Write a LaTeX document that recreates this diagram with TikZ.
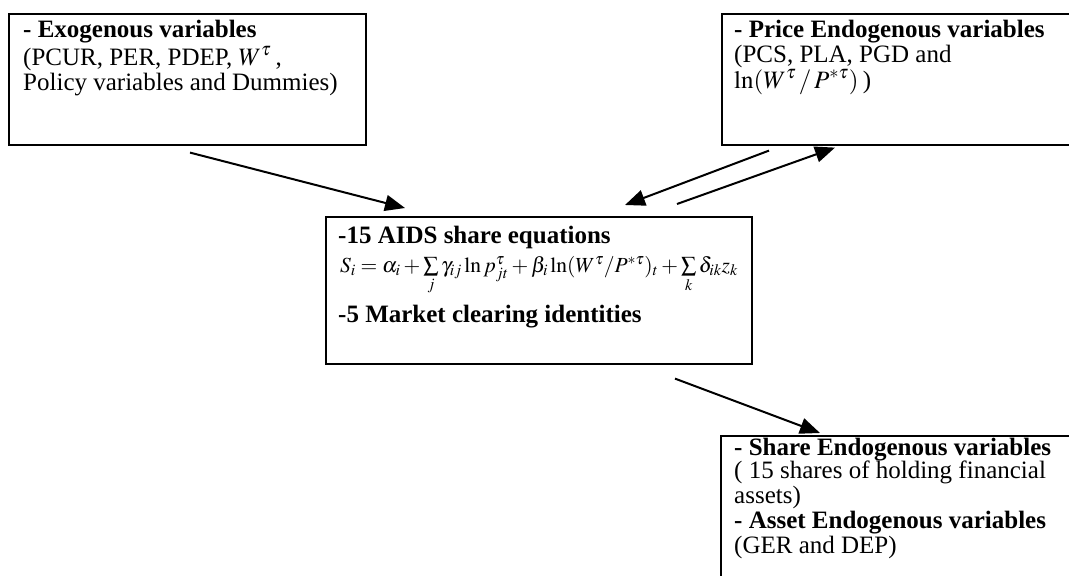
\documentclass[tikz,border=0pt]{standalone}
\usepackage{mathptmx}
\usepackage{fontspec}
\setmainfont{Liberation Serif}
\usetikzlibrary{arrows.meta}

\begin{document}
\begin{tikzpicture}[x=1pt,y=-1pt,
  box/.style={draw, line width=1.6pt, inner sep=0pt, anchor=north west},
  txt/.style={anchor=base west, inner sep=0pt, font=\fontsize{25}{25.5}\selectfont},
  head/.style={txt, font=\fontsize{25}{25.5}\selectfont\bfseries},
  eq/.style={anchor=base west, inner sep=0pt, font=\fontsize{21.5}{21.5}\selectfont},
  conn/.style={line width=2pt, -{Triangle[length=20pt,width=16pt]}}]
\useasboundingbox (0,0) rectangle (1069,576);
\clip (0,0) rectangle (1069,576);

% boxes
\node[box, minimum width=357pt, minimum height=131pt] (exo)   at (8,13)   {};
\node[box, minimum width=420pt, minimum height=131pt] (price) at (721,13) {};
\node[box, minimum width=426pt, minimum height=147pt] (aids)  at (325,216) {};
\node[box, minimum width=420pt, minimum height=200pt] (share) at (720,435) {};

% exogenous variables
\node[head] (exo1) at (23,37) {- Exogenous variables};
\node[txt]  (exo2) at (23,65) {(PCUR, PER, PDEP, $W^{\tau}$\,,};
\node[txt]  (exo3) at (23,90) {Policy variables and Dummies)};

% price endogenous variables
\node[head] (price1) at (734,37) {- Price Endogenous variables};
\node[txt]  (price2) at (734,62) {(PCS, PLA, PGD and};
\node[txt]  (price3) at (734,88) {$\ln(W^{\tau}\,/\,P^{*\tau})$\,)};

% AIDS system
\node[head] (aids1) at (338,243) {-15 AIDS share equations};
\node[eq]   (aids2) at (340,272) {$S_i = \alpha_i + \sum\limits_j \gamma_{ij} \ln p_{jt}^{\tau}
   + \beta_i \ln(W^{\tau}/P^{*\tau})_t + \sum\limits_k \delta_{ik} z_k$};
\node[head] (aids3) at (338,322) {-5 Market clearing identities};

% share and asset endogenous variables
\node[head] (share1) at (734,455) {- Share Endogenous variables};
\node[txt]  (share2) at (734,478) {( 15 shares of holding financial};
\node[txt]  (share3) at (734,503) {assets)};
\node[head] (share4) at (734,528) {- Asset Endogenous variables};
\node[txt]  (share5) at (734,553) {(GER and DEP)};

% connectors
\draw[conn] ([shift={(182,7)}]exo.south west) -- ([shift={(80,-8)}]aids.north west);
\draw[conn] ([shift={(48,5)}]price.south west) -- ([shift={(300,-11)}]aids.north west);
\draw[conn] ([shift={(352,-12)}]aids.north west) -- ([shift={(114,2)}]price.south west);
\draw[conn] ([shift={(350,14)}]aids.south west) -- ([shift={(100,-2)}]share.north west);
\end{tikzpicture}
\end{document}
